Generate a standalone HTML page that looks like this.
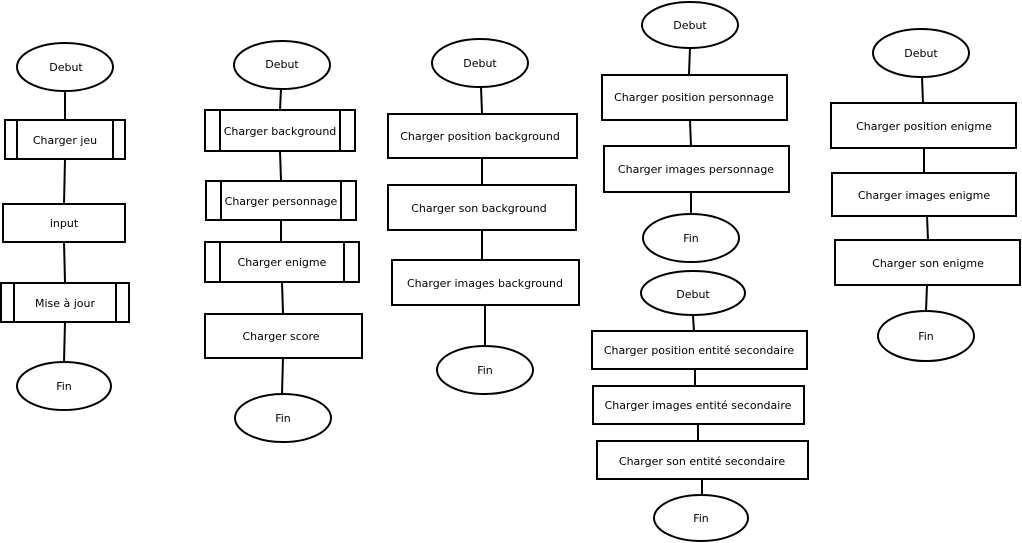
<!DOCTYPE html>
<html><head><meta charset="utf-8"><style>
html,body{margin:0;padding:0;background:#fff;}
svg{display:block;}
text{font-family:"DejaVu Sans","Liberation Sans",sans-serif;font-size:11px;fill:#000;text-anchor:middle;}
</style></head><body>
<svg width="1022" height="543" viewBox="0 0 1022 543" xmlns="http://www.w3.org/2000/svg">
<g fill="none" stroke="#000" stroke-width="2">
<line x1="65" y1="91" x2="65" y2="120"/><line x1="65" y1="159" x2="64" y2="204"/><line x1="64" y1="242" x2="65" y2="282"/><line x1="65" y1="322" x2="64" y2="362"/>
<ellipse cx="65" cy="67" rx="48" ry="24"/>
<rect x="5" y="120" width="120" height="39"/><line x1="17" y1="120" x2="17" y2="159"/><line x1="113" y1="120" x2="113" y2="159"/>
<rect x="3" y="204" width="122" height="38"/>
<rect x="1" y="283" width="128" height="39"/><line x1="14" y1="283" x2="14" y2="322"/><line x1="116" y1="283" x2="116" y2="322"/>
<ellipse cx="64" cy="386" rx="47" ry="24"/>
<line x1="281" y1="89" x2="280" y2="110"/><line x1="280" y1="151" x2="281" y2="180"/><line x1="281" y1="220" x2="281" y2="242"/><line x1="282" y1="282" x2="283" y2="313"/><line x1="283" y1="358" x2="282" y2="394"/>
<ellipse cx="282" cy="65" rx="48" ry="24"/>
<rect x="205" y="110" width="150" height="41"/><line x1="220" y1="110" x2="220" y2="151"/><line x1="340" y1="110" x2="340" y2="151"/>
<rect x="206" y="181" width="150" height="39"/><line x1="221" y1="181" x2="221" y2="220"/><line x1="341" y1="181" x2="341" y2="220"/>
<rect x="205" y="242" width="154" height="40"/><line x1="220" y1="242" x2="220" y2="282"/><line x1="344" y1="242" x2="344" y2="282"/>
<rect x="205" y="314" width="157" height="44"/>
<ellipse cx="283" cy="418" rx="48" ry="24"/>
<line x1="481" y1="87" x2="482" y2="113"/><line x1="482" y1="158" x2="482" y2="185"/><line x1="482" y1="230" x2="482" y2="259"/><line x1="485" y1="305" x2="485" y2="346"/>
<ellipse cx="480" cy="63" rx="48" ry="24"/>
<rect x="388" y="114" width="189" height="44"/>
<rect x="388" y="185" width="188" height="45"/>
<rect x="392" y="260" width="187" height="45"/>
<ellipse cx="485" cy="370" rx="48" ry="24"/>
<!-- col4 top -->
<line x1="690" y1="48" x2="689" y2="74"/><line x1="690" y1="120" x2="691" y2="146"/><line x1="691" y1="192" x2="691" y2="214"/>
<ellipse cx="690" cy="25" rx="48" ry="23"/>
<rect x="602" y="75" width="185" height="45"/>
<rect x="604" y="146" width="185" height="46"/>
<ellipse cx="691" cy="238" rx="48" ry="24"/>
<!-- col4 bottom -->
<line x1="693" y1="316" x2="694" y2="331"/><line x1="695" y1="369" x2="695" y2="386"/><line x1="698" y1="424" x2="698" y2="441"/><line x1="702" y1="480" x2="702" y2="495"/>
<ellipse cx="693" cy="293" rx="52" ry="22"/>
<rect x="592" y="331" width="215" height="38"/>
<rect x="593" y="386" width="211" height="38"/>
<rect x="597" y="441" width="211" height="38"/>
<ellipse cx="701" cy="518" rx="47" ry="23"/>
<!-- col5 -->
<line x1="922" y1="77" x2="923" y2="103"/><line x1="924" y1="148" x2="924" y2="173"/><line x1="927" y1="216" x2="928" y2="240"/><line x1="927" y1="285" x2="926" y2="311"/>
<ellipse cx="921" cy="53" rx="48" ry="24"/>
<rect x="831" y="103" width="185" height="45"/>
<rect x="832" y="173" width="184" height="43"/>
<rect x="835" y="240" width="185" height="45"/>
<ellipse cx="926" cy="336" rx="48" ry="25"/>
</g>
<g transform="translate(0,4)">
<text x="66" y="67">Debut</text>
<text x="65" y="140">Charger jeu</text>
<text x="64" y="223">input</text>
<text x="65" y="303">Mise à jour</text>
<text x="64" y="386">Fin</text>
<text x="282" y="64">Debut</text>
<text x="280" y="131">Charger background</text>
<text x="281" y="201">Charger personnage</text>
<text x="282" y="262">Charger enigme</text>
<text x="281" y="336">Charger score</text>
<text x="283" y="418">Fin</text>
<text x="480" y="63">Debut</text>
<text x="480" y="136">Charger position background</text>
<text x="479" y="208">Charger son background</text>
<text x="485" y="283">Charger images background</text>
<text x="485" y="370">Fin</text>
<text x="690" y="25">Debut</text>
<text x="694" y="97">Charger position personnage</text>
<text x="696" y="169">Charger images personnage</text>
<text x="691" y="238">Fin</text>
<text x="693" y="294">Debut</text>
<text x="699" y="350">Charger position entité secondaire</text>
<text x="698" y="405">Charger images entité secondaire</text>
<text x="702" y="461">Charger son entité secondaire</text>
<text x="701" y="518">Fin</text>
<text x="921" y="53">Debut</text>
<text x="924" y="126">Charger position enigme</text>
<text x="924" y="195">Charger images enigme</text>
<text x="928" y="263">Charger son enigme</text>
<text x="926" y="336">Fin</text>
</g>
</svg>
</body></html>
